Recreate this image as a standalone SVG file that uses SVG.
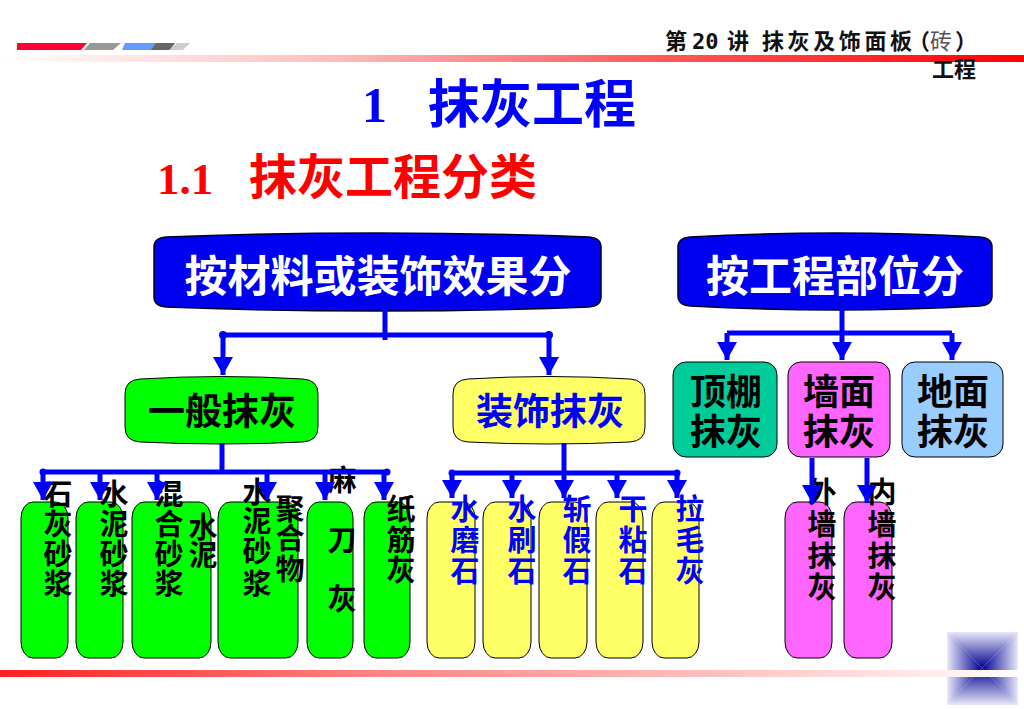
<svg xmlns="http://www.w3.org/2000/svg" width="1024" height="709" viewBox="0 0 1024 709">
<defs>
<style>
text{font-family:"Noto Sans CJK SC","Noto Sans",sans-serif;font-weight:bold}
.hd{font-size:22px;fill:#111}
.big{font-size:43px;fill:#fff;text-anchor:middle}
.l2{font-size:37px;text-anchor:middle}
.l2r{font-size:36px;text-anchor:middle;fill:#000}
.col{font-size:29px;text-anchor:middle;fill:#000}
.colb{font-size:29px;text-anchor:middle;fill:#0000ff}
.bx{stroke:#000;stroke-width:1}
.hbox{fill:#0000f0;stroke:#000022;stroke-width:1.5}
.ln{stroke:#0000ff;stroke-width:5;fill:none}
.ar{stroke:#0000ff;stroke-width:5;fill:none;marker-end:url(#ah)}
</style>
<marker id="ah" markerUnits="userSpaceOnUse" markerWidth="20" markerHeight="20" refX="18" refY="10" orient="auto">
<path d="M0,0 L18,10 L0,20 Z" fill="#0000ff"/>
</marker>
<linearGradient id="topband" x1="0" y1="0" x2="1024" y2="0" gradientUnits="userSpaceOnUse">
<stop offset="0" stop-color="#ffffff"/>
<stop offset="0.3" stop-color="#ffc4c4"/>
<stop offset="0.62" stop-color="#ff6060"/>
<stop offset="1" stop-color="#ff0000"/>
</linearGradient>
<linearGradient id="botband" x1="0" y1="0" x2="1024" y2="0" gradientUnits="userSpaceOnUse">
<stop offset="0" stop-color="#ff2020"/>
<stop offset="0.35" stop-color="#ff8080"/>
<stop offset="0.7" stop-color="#ffc0c0"/>
<stop offset="1" stop-color="#ffffff"/>
</linearGradient>
<linearGradient id="gT" x1="0" y1="632" x2="0" y2="668" gradientUnits="userSpaceOnUse"><stop offset="0" stop-color="#e8e8fa"/><stop offset="1" stop-color="#000090"/></linearGradient>
<linearGradient id="gB" x1="0" y1="705" x2="0" y2="668" gradientUnits="userSpaceOnUse"><stop offset="0" stop-color="#e8e8fa"/><stop offset="1" stop-color="#000090"/></linearGradient>
<linearGradient id="gL" x1="947" y1="0" x2="982" y2="0" gradientUnits="userSpaceOnUse"><stop offset="0" stop-color="#e8e8fa"/><stop offset="1" stop-color="#000090"/></linearGradient>
<linearGradient id="gR" x1="1018" y1="0" x2="982" y2="0" gradientUnits="userSpaceOnUse"><stop offset="0" stop-color="#e8e8fa"/><stop offset="1" stop-color="#000090"/></linearGradient>
</defs>

<g id="header">
<polygon points="17,43 87,43 81,50 17,50" fill="#ff0033"/>
<polygon points="90,43 121,43 113,50 84,50" fill="#999999"/>
<polygon points="125,43 157,43 152,50 122,50" fill="#6699ff"/>
<polygon points="156,43 175,43 170,50 151,50" fill="#666666"/>
<polygon points="177,43 190,43 183,50 169,50" fill="#cccccc"/>
<rect x="0" y="55" width="1024" height="7" fill="url(#topband)"/>
<text class="hd" x="665" y="49">第</text>
<text class="hd" x="692" y="49" style="font-family:'DejaVu Sans Mono',monospace">20</text>
<text class="hd" x="727" y="49">讲</text>
<text class="hd" x="762" y="49" textLength="150" lengthAdjust="spacing">抹灰及饰面板</text>
<text class="hd" x="908" y="49">（</text>
<text class="hd" x="930" y="49" style="fill:#555;font-weight:normal">砖</text>
<text class="hd" x="955" y="49">）</text>
<text class="hd" x="932" y="77">工程</text>
</g>

<g id="title">
<text x="362" y="122" style="font-family:'Liberation Serif',serif;font-size:50px;fill:#0000ff">1</text>
<text x="428" y="123" style="font-size:52px;fill:#0000ff">抹灰工程</text>
<text x="157" y="194" style="font-family:'Liberation Serif',serif;font-size:45px;fill:#ff0000">1.1</text>
<text x="249" y="194" style="font-size:48px;fill:#ff0000">抹灰工程分类</text>
</g>

<g id="node-material">
<path class="hbox" d="M154,247 Q154,238 166,237 Q378,229 589,237 Q601,238 601,247 L601,297 Q601,306 589,307 Q378,315 166,307 Q154,306 154,297 Z"/>
<text class="big" x="378" y="292">按材料或装饰效果分</text>
</g>
<g id="node-position">
<path class="hbox" d="M678,247 Q678,238 690,237 Q835,229 980,237 Q992,238 992,247 L992,296 Q992,305 980,306 Q835,314 690,306 Q678,305 678,296 Z"/>
<text class="big" x="835" y="292">按工程部位分</text>
</g>

<g id="node-general">
<path class="bx" fill="#00ff00" d="M125,394 Q125,380 140,379 Q222,374 303,379 Q318,380 318,394 L318,427 Q318,441 303,442 Q222,446 140,442 Q125,441 125,427 Z"/>
<text class="l2" x="222" y="425" fill="#000">一般抹灰</text>
</g>
<g id="node-decor">
<path class="bx" fill="#ffff66" d="M453,394 Q453,380 468,379 Q549,374 630,379 Q645,380 645,394 L645,427 Q645,441 630,442 Q549,446 468,442 Q453,441 453,427 Z"/>
<text class="l2" x="550" y="425" fill="#0000ff">装饰抹灰</text>
</g>

<g id="node-ceiling">
<rect class="bx" x="673" y="362" width="104" height="95" rx="13" fill="#00cc99"/>
<text class="l2r" x="726" y="405">顶棚</text>
<text class="l2r" x="726" y="445">抹灰</text>
</g>
<g id="node-wall">
<rect class="bx" x="788" y="362" width="102" height="95" rx="13" fill="#ff66ff"/>
<text class="l2r" x="839" y="405">墙面</text>
<text class="l2r" x="839" y="445">抹灰</text>
</g>
<g id="node-floor">
<rect class="bx" x="902" y="362" width="101" height="95" rx="13" fill="#99ccff"/>
<text class="l2r" x="953" y="405">地面</text>
<text class="l2r" x="953" y="445">抹灰</text>
</g>

<g id="node-lime-mortar">
<rect class="bx" x="21" y="502" width="47" height="156" rx="12" ry="16" fill="#00ff00"/>
<text class="col"><tspan x="58" y="505">石</tspan><tspan x="58" y="535">灰</tspan><tspan x="58" y="565">砂</tspan><tspan x="58" y="595">浆</tspan></text>
</g>
<g id="node-cement-mortar">
<rect class="bx" x="76" y="502" width="47" height="156" rx="12" ry="16" fill="#00ff00"/>
<text class="col"><tspan x="114" y="505">水</tspan><tspan x="114" y="535">泥</tspan><tspan x="114" y="565">砂</tspan><tspan x="114" y="595">浆</tspan></text>
</g>
<g id="node-mixed-mortar">
<rect class="bx" x="132" y="502" width="79" height="156" rx="12" ry="16" fill="#00ff00"/>
<text class="col"><tspan x="169" y="505">混</tspan><tspan x="169" y="535">合</tspan><tspan x="169" y="565">砂</tspan><tspan x="169" y="595">浆</tspan></text>
<text class="col"><tspan x="203" y="538">水</tspan><tspan x="203" y="566">泥</tspan></text>
</g>
<g id="node-polymer-mortar">
<rect class="bx" x="218" y="502" width="80" height="156" rx="12" ry="16" fill="#00ff00"/>
<text class="col"><tspan x="257" y="503">水</tspan><tspan x="257" y="532">泥</tspan><tspan x="257" y="562">砂</tspan><tspan x="257" y="595">浆</tspan></text>
<text class="col"><tspan x="290" y="520">聚</tspan><tspan x="290" y="549">合</tspan><tspan x="290" y="580">物</tspan></text>
</g>
<g id="node-hemp-lime">
<rect class="bx" x="307" y="502" width="46" height="156" rx="12" ry="16" fill="#00ff00"/>
<text class="col"><tspan x="342" y="491">麻</tspan><tspan x="342" y="551">刀</tspan><tspan x="342" y="610">灰</tspan></text>
</g>
<g id="node-paper-lime">
<rect class="bx" x="364" y="502" width="46" height="156" rx="12" ry="16" fill="#00ff00"/>
<text class="col"><tspan x="401" y="520">纸</tspan><tspan x="401" y="551">筋</tspan><tspan x="401" y="581">灰</tspan></text>
</g>

<g id="node-terrazzo">
<rect class="bx" x="427" y="502" width="48" height="156" rx="12" ry="16" fill="#ffff66"/>
<text class="colb"><tspan x="465" y="520">水</tspan><tspan x="465" y="551">磨</tspan><tspan x="465" y="582">石</tspan></text>
</g>
<g id="node-washed-stone">
<rect class="bx" x="483" y="502" width="48" height="156" rx="12" ry="16" fill="#ffff66"/>
<text class="colb"><tspan x="522" y="520">水</tspan><tspan x="522" y="551">刷</tspan><tspan x="522" y="582">石</tspan></text>
</g>
<g id="node-chiseled-stone">
<rect class="bx" x="539" y="502" width="48" height="156" rx="12" ry="16" fill="#ffff66"/>
<text class="colb"><tspan x="577" y="520">斩</tspan><tspan x="577" y="551">假</tspan><tspan x="577" y="582">石</tspan></text>
</g>
<g id="node-dry-stone">
<rect class="bx" x="596" y="502" width="47" height="156" rx="12" ry="16" fill="#ffff66"/>
<text class="colb"><tspan x="633" y="520">干</tspan><tspan x="633" y="551">粘</tspan><tspan x="633" y="582">石</tspan></text>
</g>
<g id="node-rough-lime">
<rect class="bx" x="652" y="502" width="47" height="156" rx="12" ry="16" fill="#ffff66"/>
<text class="colb"><tspan x="690" y="520">拉</tspan><tspan x="690" y="551">毛</tspan><tspan x="690" y="582">灰</tspan></text>
</g>

<g id="node-exterior-wall">
<rect class="bx" x="785" y="502" width="47" height="156" rx="12" ry="16" fill="#ff66ff"/>
<text class="col"><tspan x="822" y="503">外</tspan><tspan x="822" y="535">墙</tspan><tspan x="822" y="567">抹</tspan><tspan x="822" y="598">灰</tspan></text>
</g>
<g id="node-interior-wall">
<rect class="bx" x="844" y="502" width="48" height="156" rx="12" ry="16" fill="#ff66ff"/>
<text class="col"><tspan x="882" y="503">内</tspan><tspan x="882" y="535">墙</tspan><tspan x="882" y="567">抹</tspan><tspan x="882" y="598">灰</tspan></text>
</g>

<g id="connectors">
<path class="ln" d="M385,310 V340 M223,335 H549"/>
<circle cx="223" cy="335" r="4" fill="#0000ff"/>
<circle cx="549" cy="335" r="4" fill="#0000ff"/>
<path class="ar" d="M223,335 V375"/>
<path class="ar" d="M549,335 V375"/>

<path class="ln" d="M842,308 V333 M727,333 H952"/>
<path class="ar" d="M727,333 V360"/>
<path class="ar" d="M842,333 V360"/>
<path class="ar" d="M952,333 V360"/>

<path class="ln" d="M222,443 V472 M43,472 H387"/>
<circle cx="43" cy="472" r="3.5" fill="#0000ff"/>
<circle cx="387" cy="472" r="3.5" fill="#0000ff"/>
<path class="ar" d="M43,472 V500"/>
<path class="ar" d="M100,472 V500"/>
<path class="ar" d="M157,472 V500"/>
<path class="ar" d="M267,472 V500"/>
<path class="ar" d="M325,472 V500"/>
<path class="ar" d="M384,472 V500"/>

<path class="ln" d="M452,473 H677"/>
<circle cx="452" cy="473" r="3.5" fill="#0000ff"/>
<circle cx="677" cy="473" r="3.5" fill="#0000ff"/>
<path class="ar" d="M564,443 V498"/>
<path class="ar" d="M452,473 V498"/>
<path class="ar" d="M512,473 V498"/>
<path class="ar" d="M617,473 V498"/>
<path class="ar" d="M677,473 V498"/>

<path class="ar" d="M812,458 V503"/>
<path class="ar" d="M867,458 V503"/>
</g>

<g id="decoration">
<polygon points="947,632 1018,632 982,668" fill="url(#gT)"/>
<polygon points="947,705 1018,705 982,668" fill="url(#gB)"/>
<polygon points="947,632 947,705 982,668" fill="url(#gL)"/>
<polygon points="1018,632 1018,705 982,668" fill="url(#gR)"/>
<rect x="0" y="670" width="1024" height="7" fill="url(#botband)"/>
</g>
</svg>
